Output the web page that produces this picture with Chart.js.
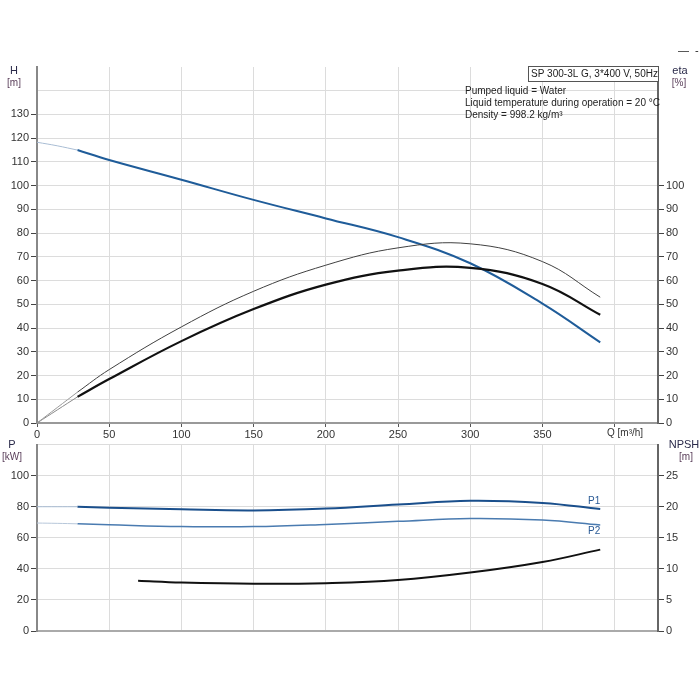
<!DOCTYPE html>
<html>
<head>
<meta charset="utf-8">
<script src="https://cdn.jsdelivr.net/npm/chart.js@4/dist/chart.umd.min.js"></script>
<style>
  body { margin: 0; background: #fff; }
  #wrap { position: relative; width: 700px; height: 700px; }
  #top { position: absolute; left: 0; top: 0; }
  #bottom { position: absolute; left: 0; top: 436px; }
</style>
</head>
<body>
<div id="wrap">
  <canvas id="top" width="700" height="440"></canvas>
  <canvas id="bottom" width="700" height="264"></canvas>
</div>
<script>
// flow points (m3/h)
const qStart = [0, 14, 28];
const qMain = [28, 50, 100, 150, 200, 250, 300, 350, 390];
const qNpsh = [70, 100, 150, 200, 250, 300, 350, 390];

// head H [m]
const headStart = [118.3, 116.8, 115];
const headMain = [115, 110.8, 102.5, 94, 86.2, 78.3, 67.3, 50.3, 34];

// efficiencies [%]
const etaPumpStart = [0, 6.5, 13];
const etaPump = [13, 22.5, 40.5, 55.5, 66.5, 73.8, 75.5, 68, 53];
const etaTotalStart = [0, 5.5, 11];
const etaTotal = [11, 18.5, 34.5, 48, 58.3, 64.2, 65.4, 58.6, 45.6];

// power [kW]
const p1Start = [80, 80, 80];
const p1Main = [80, 79.4, 78.3, 77.6, 78.8, 81.4, 83.8, 82.4, 78.5];
const p2Start = [69.5, 69.3, 69];
const p2Main = [69, 68.4, 67.3, 67.2, 68.6, 70.6, 72.4, 71.4, 68.3];

// NPSH [m]
const npsh = [8.1, 7.8, 7.6, 7.7, 8.2, 9.4, 11.1, 13.1];

// axis ranges and the labels that are printed
const qMax = 430;
const hMax = 150, hLabelMax = 130;
const etaLabelMax = 100;
const pMax = 120, pLabelMax = 100;
const npshMax = 30, npshLabelMax = 25;

const pts = (xs, ys) => xs.map((x, i) => ({ x: x, y: ys[i] }));

const FONT = 'Liberation Sans, Arial, sans-serif';
const gridColor = '#dcdcdc';
const tickText = '#333';
const none = 'rgba(0,0,0,0)';

function line(data, color, width, axis) {
  return {
    data: data, borderColor: color, borderWidth: width, pointRadius: 0,
    fill: false, tension: 0.4, yAxisID: axis
  };
}

// tick marks only where a label is printed
const tickUpTo = lim => c => (c.tick && c.tick.value <= lim ? '#444' : none);

// plain canvas text for axis units and info box
function textPlugin(draw) {
  return { id: 'texts', afterDraw(chart) { const c = chart.ctx; c.save(); draw(c); c.restore(); } };
}

function put(c, s, x, y, align, color, size) {
  c.font = (size || 11) + 'px ' + FONT;
  c.fillStyle = color || '#333';
  c.textAlign = align || 'left';
  c.textBaseline = 'middle';
  c.fillText(s, x, y);
}

const common = {
  responsive: false,
  animation: false,
  events: [],
  plugins: { legend: { display: false }, tooltip: { enabled: false } }
};

// ---------- top panel: H and eta ----------
new Chart(document.getElementById('top'), {
  type: 'line',
  data: {
    datasets: [
      line(pts(qStart, headStart), '#a9bdd4', 1, 'h'),
      line(pts(qStart, etaPumpStart), '#9a9a9a', 1, 'eta'),
      line(pts(qStart, etaTotalStart), '#8a8a8a', 1, 'eta'),
      line(pts(qMain, etaPump), '#404040', 1, 'eta'),
      line(pts(qMain, etaTotal), '#111', 2.2, 'eta'),
      line(pts(qMain, headMain), '#1f5c99', 2, 'h')
    ]
  },
  options: Object.assign({}, common, {
    layout: { padding: { top: 67 } },
    scales: {
      x: {
        type: 'linear', min: 0, max: qMax,
        border: { color: '#999', width: 2 },
        grid: { color: gridColor, tickLength: 4, tickColor: '#555' },
        ticks: {
          stepSize: 50, includeBounds: false, maxRotation: 0, padding: 1,
          color: tickText, font: { family: FONT, size: 11 },
          callback: v => (v <= 350 ? v : '')
        },
        afterFit: s => { s.height = 17; }
      },
      h: {
        type: 'linear', position: 'left', min: 0, max: hMax,
        border: { color: '#888', width: 2 },
        grid: {
          tickLength: 6, tickColor: tickUpTo(hLabelMax),
          color: c => (c.tick && c.tick.value === hMax ? none : gridColor)
        },
        ticks: {
          stepSize: 10, padding: 2, color: tickText, font: { family: FONT, size: 11 },
          callback: v => (v <= hLabelMax ? v : '')
        },
        afterFit: s => { s.width = 37; }
      },
      eta: {
        type: 'linear', position: 'right', min: 0, max: hMax,
        border: { color: '#666', width: 2 },
        grid: { drawOnChartArea: false, tickLength: 6, tickColor: tickUpTo(etaLabelMax) },
        ticks: {
          stepSize: 10, padding: 2, color: tickText, font: { family: FONT, size: 11 },
          callback: v => (v <= etaLabelMax ? v : '')
        },
        afterFit: s => { s.width = 42; }
      }
    }
  }),
  plugins: [textPlugin(c => {
    put(c, 'H', 14, 71, 'center', '#2a2a4a');
    put(c, '[m]', 14, 83, 'center', '#5a3f5a', 10);
    put(c, 'eta', 680, 71, 'center', '#2a2a4a');
    put(c, '[%]', 679, 83, 'center', '#5a3f5a', 10);
    put(c, '\u2014', 678, 51, 'left', '#222', 11);
    put(c, '-', 695, 51, 'left', '#222', 11);
    c.fillStyle = '#fff';
    c.fillRect(528, 66, 130, 15);
    c.strokeStyle = '#555';
    c.lineWidth = 1;
    c.strokeRect(528.5, 66.5, 130, 15);
    put(c, 'SP 300-3L G, 3*400 V, 50Hz', 531, 74, 'left', '#222', 10);
    put(c, 'Pumped liquid = Water', 465, 91, 'left', '#222', 10);
    put(c, 'Liquid temperature during operation = 20 \u00B0C', 465, 103, 'left', '#222', 10);
    put(c, 'Density = 998.2 kg/m\u00B3', 465, 115, 'left', '#222', 10);
    put(c, 'Q [m\u00B3/h]', 607, 433, 'left', '#333', 10);
  })]
});

// ---------- bottom panel: P1, P2 and NPSH ----------
new Chart(document.getElementById('bottom'), {
  type: 'line',
  data: {
    datasets: [
      line(pts(qStart, p1Start), '#a9bdd4', 1, 'p'),
      line(pts(qStart, p2Start), '#b7c7da', 1, 'p'),
      line(pts(qMain, p2Main), '#4a7bb0', 1.5, 'p'),
      line(pts(qMain, p1Main), '#1a4f8c', 2, 'p'),
      line(pts(qNpsh, npsh), '#111', 2, 'npsh')
    ]
  },
  options: Object.assign({}, common, {
    layout: { padding: { top: 5 } },
    scales: {
      x: {
        type: 'linear', min: 0, max: qMax,
        border: { color: '#aaa', width: 2 },
        grid: { color: gridColor, drawTicks: false },
        ticks: { stepSize: 50, includeBounds: false, display: false },
        afterFit: s => { s.height = 69; }
      },
      p: {
        type: 'linear', position: 'left', min: 0, max: pMax,
        border: { color: '#888', width: 2 },
        grid: { color: gridColor, tickLength: 6, tickColor: tickUpTo(pLabelMax) },
        ticks: {
          stepSize: 20, padding: 2, color: tickText, font: { family: FONT, size: 11 },
          callback: v => (v <= pLabelMax ? v : '')
        },
        afterFit: s => { s.width = 37; }
      },
      npsh: {
        type: 'linear', position: 'right', min: 0, max: npshMax,
        border: { color: '#666', width: 2 },
        grid: { drawOnChartArea: false, tickLength: 6, tickColor: tickUpTo(npshLabelMax) },
        ticks: {
          stepSize: 5, padding: 2, color: tickText, font: { family: FONT, size: 11 },
          callback: v => (v <= npshLabelMax ? v : '')
        },
        afterFit: s => { s.width = 42; }
      }
    }
  }),
  plugins: [textPlugin(c => {
    put(c, 'P', 12, 9, 'center', '#2a2a4a');
    put(c, '[kW]', 12, 21, 'center', '#5a3f5a', 10);
    put(c, 'NPSH', 684, 9, 'center', '#2a2a4a');
    put(c, '[m]', 686, 21, 'center', '#5a3f5a', 10);
    put(c, 'P1', 588, 65, 'left', '#2a5a95', 10);
    put(c, 'P2', 588, 95, 'left', '#2a5a95', 10);
  })]
});
</script>
</body>
</html>
